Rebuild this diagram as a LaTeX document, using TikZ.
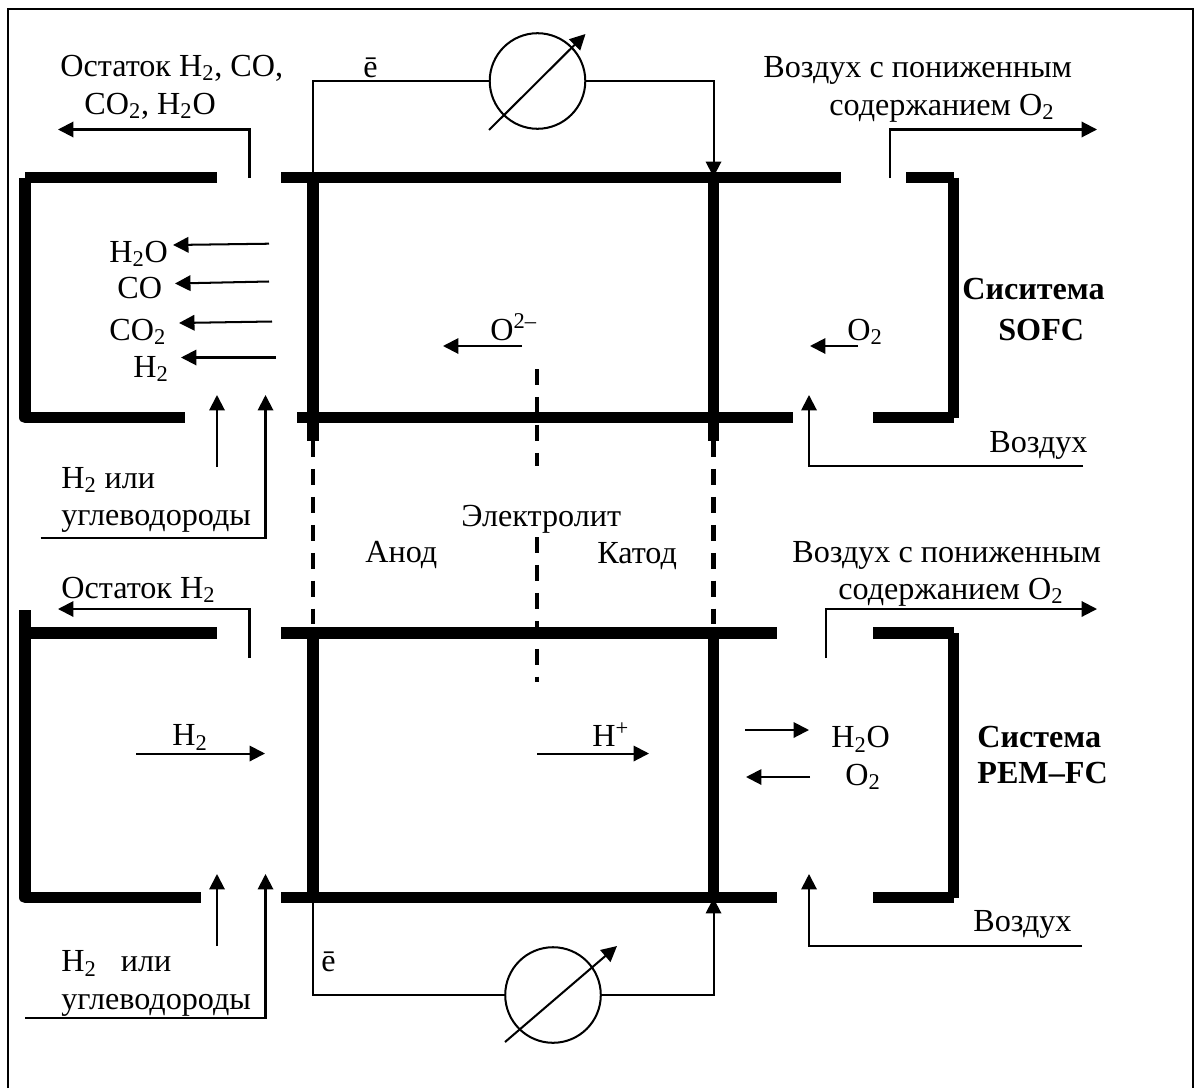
\documentclass[tikz,border=0pt]{standalone}
\usepackage{fontspec}
\setmainfont{Liberation Serif}
\usetikzlibrary{arrows.meta}
\tikzset{
  wall/.style={line width=6.8pt},
  wire/.style={line width=1.15pt},
  flow/.style={wire, -{Triangle[length=8.8pt,width=8.8pt]}},
  sepline/.style={line width=2.3pt, dash pattern=on 9pt off 6.9pt},
  meter/.style={draw, circle, line width=1.15pt, minimum size=54.4pt, inner sep=0pt},
  lbl/.style={font=\fontsize{18.3}{20}\selectfont, inner sep=0pt, anchor=base west},
  bold lbl/.style={lbl, font=\fontsize{18.3}{20}\selectfont\bfseries}
}
\newcommand{\two}{\textsubscript{2}}
\begin{document}
\begin{tikzpicture}[x=0.02cm, y=-0.02cm]
  \useasboundingbox (0,0) rectangle (1195,1088);
  % outer frame, open at the foot
  \draw[line width=1.1pt] (8,1088) -- (8,9) -- (1193,9) -- (1193,1088);
  % walls of the upper cell
  \draw[wall] (217,177.5) -- (25,177.5);
  \draw[wall, line join=round] (25.3,177.5) -- (25.3,417.5) -- (185,417.5);
  \draw[wall] (281,177.5) -- (841,177.5);
  \draw[wall] (906,177.5) -- (953.5,177.5);
  \draw[wall] (953.5,177.5) -- (953.5,417.5);
  \draw[wall] (297,417.5) -- (793,417.5);
  \draw[wall] (873,417.5) -- (953.5,417.5);
  % walls of the lower cell
  \draw[wall] (217,633) -- (25,633);
  \draw[wall, line join=round] (25.3,610) -- (25.3,897.5) -- (201,897.5);
  \draw[wall] (281,633) -- (777,633);
  \draw[wall] (873,633) -- (953.5,633);
  \draw[wall] (953.5,633) -- (953.5,897.5);
  \draw[wall] (281,897.5) -- (777,897.5);
  \draw[wall] (873,897.5) -- (953.5,897.5);
  % electrodes
  \foreach \xe in {313,713.5}{
    \draw[wall] (\xe,177) -- (\xe,441);
    \draw[wall] (\xe,633) -- (\xe,897);
    \draw[sepline] (\xe,441) -- (\xe,633);
  }
  % electrolyte
  \draw[sepline] (537,369) -- (537,466);
  \draw[sepline] (537,537) -- (537,682);
  % meters
  \node[meter] (meterA) at (537.5,81) {};
  \node[meter] (meterB) at (553,995) {};
  \draw[flow] (489,130) -- (585.5,34);
  \draw[flow] (505,1042) -- (617,946);
  \coordinate (anodeA) at (313,177);
  \coordinate (cathodeA) at (713.5,177);
  \coordinate (anodeB) at (313,897);
  \coordinate (cathodeB) at (713.5,898);
  \draw[wire] (anodeA) |- (meterA.west);
  \draw[flow] (meterA.east) -| (cathodeA);
  \draw[wire] (anodeB) |- (meterB.west);
  \draw[flow] (meterB.east) -| (cathodeB);
  % gas lines, upper cell
  \draw[flow] (249.5,178) |- (58,129.5);
  \draw[flow] (889.5,178) |- (1097,129.5);
  \draw[flow] (217,467) -- (217,395);
  \draw[flow] (40.5,538) -| (265.5,395);
  \draw[flow] (1083,466) -| (809,395);
  \foreach \xa/\ya/\xb/\yb in {269/243.7/173/245, 269/281.5/175/283.5, 272/321.5/179/323, 276/357.5/181/357.5,
    522/346/443/346, 858/346/810/346}{
    \draw[flow] (\xa,\ya) -- (\xb,\yb);
  }
  % gas lines, lower cell
  \draw[flow] (249.5,658) |- (58,609);
  \draw[flow] (825.7,658) |- (1097,609);
  \draw[flow] (217,946) -- (217,874);
  \draw[flow] (25,1017.5) -| (265.5,874);
  \draw[flow] (1082,946) -| (809,874);
  \foreach \xa/\ya/\xb/\yb in {136/753.5/265/753.5, 537/753.5/649/753.5, 745/730/809/730, 810/777/746/777}{
    \draw[flow] (\xa,\ya) -- (\xb,\yb);
  }
  % labels, upper cell
  \node[lbl] (restA) at (60,76) {Остаток H\two, CO,};
  \node[lbl] (restAb) at (84,114) {CO\two, H\two O};
  \node[lbl] (elA) at (363,77) {ē};
  \node[lbl] (airoutA) at (763,77) {Воздух с пониженным};
  \node[lbl] (airoutAb) at (829,115) {содержанием O\two};
  \node[lbl] (hoA) at (109,262) {H\two O};
  \node[lbl] (coA) at (117,298.7) {CO};
  \node[lbl] (cotA) at (109,340) {CO\two};
  \node[lbl] (hA) at (133,377) {H\two};
  \node[lbl] (oxion) at (490,340) {O\textsuperscript{2–}};
  \node[lbl] (oxA) at (847,340) {O\two};
  \node[bold lbl] (sysA) at (962,299) {Сиситема};
  \node[bold lbl] (sysAb) at (998,340) {SOFC};
  \node[lbl] (airA) at (989,452) {Воздух};
  \node[lbl] (fuelA) at (61,488) {H\two{} или};
  \node[lbl] (fuelAb) at (61,525) {углеводороды};
  % labels, middle
  \node[lbl] (electrolyte) at (461,526) {Электролит};
  \node[lbl] (anode) at (365,562) {Анод};
  \node[lbl] (cathode) at (597,563) {Катод};
  % labels, lower cell
  \node[lbl] (restB) at (61,598) {Остаток H\two};
  \node[lbl] (airoutB) at (792,562) {Воздух с пониженным};
  \node[lbl] (airoutBb) at (838,599) {содержанием O\two};
  \node[lbl] (hB) at (172,745.7) {H\two};
  \node[lbl] (proton) at (592,746.7) {H\textsuperscript{+}};
  \node[lbl] (hoB) at (831,747.7) {H\two O};
  \node[lbl] (oxB) at (845,785) {O\two};
  \node[bold lbl] (sysB) at (977,747) {Система};
  \node[bold lbl] (sysBb) at (977,783) {PEM–FC};
  \node[lbl] (airB) at (973,931.7) {Воздух};
  \node[lbl] (fuelB) at (61,971.7) {H\two{}\ \ \ или};
  \node[lbl] (fuelBb) at (61,1009) {углеводороды};
  \node[lbl] (elB) at (321,971.7) {ē};
\end{tikzpicture}
\end{document}
